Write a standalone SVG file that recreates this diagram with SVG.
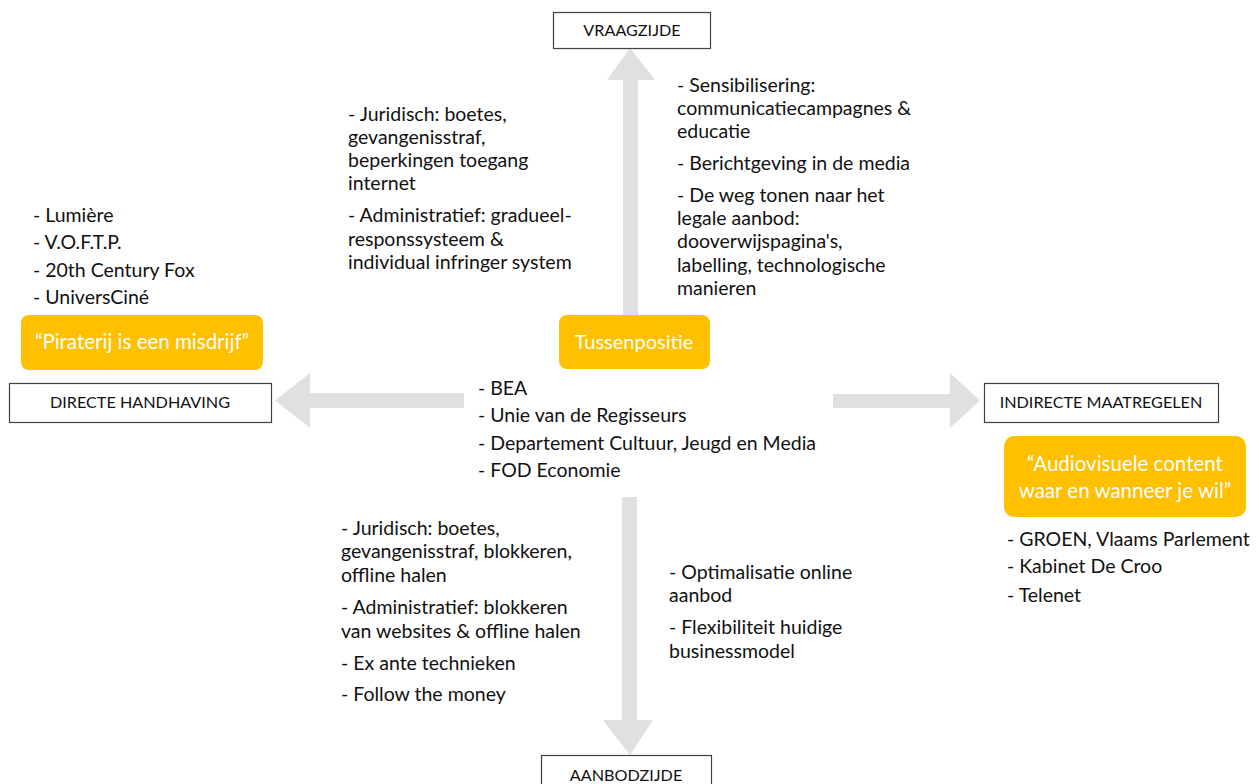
<svg xmlns="http://www.w3.org/2000/svg" width="1259" height="784" viewBox="0 0 1259 784">
<style>
.t{font-family:Lato,"Open Sans","Liberation Sans",sans-serif;font-size:19.5px;fill:#111}
.lbl{font-family:Lato,"Open Sans","Liberation Sans",sans-serif;font-size:16.2px;fill:#111;text-anchor:middle}
.box{fill:#fff;stroke:#404040;stroke-width:1.2}
.y{fill:#FFC000}
.yt{font-family:Lato,"Open Sans","Liberation Sans",sans-serif;font-size:20.5px;fill:#fff;text-anchor:middle}
.arr{fill:#e0e0e0}
</style>
<rect width="1259" height="784" fill="#fff"/>
<g id="connectors">
<polygon class="arr" points="623,316 623,80 607,80 630,48 655,80 638,80 638,316"/>
<polygon class="arr" points="622,497 622,720 603,720 630,755 653,720 637,720 637,497"/>
<polygon class="arr" points="464,393 310,393 310,373 275,400.5 310,428 310,408 464,408"/>
<polygon class="arr" points="833,394 950,394 950,373 980,400.5 950,428 950,408 833,408"/>
</g>
<g id="vraagzijde">
<rect class="box" x="553.5" y="12.5" width="157" height="36"/>
<text class="lbl" x="632" y="36">VRAAGZIJDE</text>
</g>
<g id="aanbodzijde">
<rect class="box" x="541.5" y="755.5" width="170" height="40"/>
<text class="lbl" x="626" y="781">AANBODZIJDE</text>
</g>
<g id="directe-handhaving">
<rect class="box" x="9.5" y="383.5" width="262" height="39"/>
<text class="lbl" x="140" y="408">DIRECTE HANDHAVING</text>
</g>
<g id="indirecte-maatregelen">
<rect class="box" x="984.5" y="383.5" width="234" height="39"/>
<text class="lbl" x="1101" y="408">INDIRECTE MAATREGELEN</text>
</g>
<g id="piraterij">
<rect class="y" x="21" y="315" width="242" height="55" rx="8"/>
<text class="yt" x="142" y="349">“Piraterij is een misdrijf”</text>
</g>
<g id="tussenpositie">
<rect class="y" x="559" y="315" width="151" height="54" rx="8"/>
<text class="yt" x="634" y="349" style="font-size:20px">Tussenpositie</text>
</g>
<g id="audiovisuele">
<rect class="y" x="1004" y="436" width="242" height="81" rx="10"/>
<text class="yt" x="1125" y="471">“Audiovisuele content</text>
<text class="yt" x="1125" y="498">waar en wanneer je wil”</text>
</g>
<g id="lijst-links">
<text class="t" x="33" y="222">- Lumière</text>
<text class="t" x="33" y="249">- V.O.F.T.P.</text>
<text class="t" x="33" y="277">- 20th Century Fox</text>
<text class="t" x="33" y="304">- UniversCiné</text>
</g>
<g id="lijst-midden">
<text class="t" x="478" y="395">- BEA</text>
<text class="t" x="478" y="422">- Unie van de Regisseurs</text>
<text class="t" x="478" y="450">- Departement Cultuur, Jeugd en Media</text>
<text class="t" x="478" y="477">- FOD Economie</text>
</g>
<g id="lijst-rechts">
<text class="t" x="1007" y="546">- GROEN, Vlaams Parlement</text>
<text class="t" x="1007" y="573">- Kabinet De Croo</text>
<text class="t" x="1007" y="602">- Telenet</text>
</g>
<g id="boven-links">
<text class="t" x="348" y="121">- Juridisch: boetes,</text>
<text class="t" x="348" y="144">gevangenisstraf,</text>
<text class="t" x="348" y="167">beperkingen toegang</text>
<text class="t" x="348" y="190">internet</text>
<text class="t" x="348" y="222">- Administratief: gradueel-</text>
<text class="t" x="348" y="246">responssysteem &amp;</text>
<text class="t" x="348" y="269">individual infringer system</text>
</g>
<g id="boven-rechts">
<text class="t" x="677" y="92">- Sensibilisering:</text>
<text class="t" x="677" y="115">communicatiecampagnes &amp;</text>
<text class="t" x="677" y="138">educatie</text>
<text class="t" x="677" y="170">- Berichtgeving in de media</text>
<text class="t" x="677" y="202">- De weg tonen naar het</text>
<text class="t" x="677" y="225">legale aanbod:</text>
<text class="t" x="677" y="248">dooverwijspagina's,</text>
<text class="t" x="677" y="272">labelling, technologische</text>
<text class="t" x="677" y="295">manieren</text>
</g>
<g id="onder-links">
<text class="t" x="341" y="535">- Juridisch: boetes,</text>
<text class="t" x="341" y="558">gevangenisstraf, blokkeren,</text>
<text class="t" x="341" y="582">offline halen</text>
<text class="t" x="341" y="614">- Administratief: blokkeren</text>
<text class="t" x="341" y="638">van websites &amp; offline halen</text>
<text class="t" x="341" y="670">- Ex ante technieken</text>
<text class="t" x="341" y="701">- Follow the money</text>
</g>
<g id="onder-rechts">
<text class="t" x="669" y="579">- Optimalisatie online</text>
<text class="t" x="669" y="602">aanbod</text>
<text class="t" x="669" y="634">- Flexibiliteit huidige</text>
<text class="t" x="669" y="658">businessmodel</text>
</g>
</svg>
